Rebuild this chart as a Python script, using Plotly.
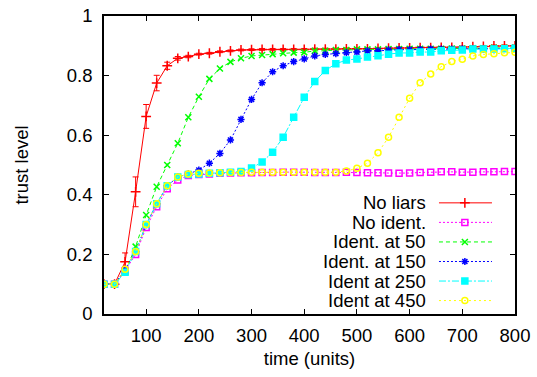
import plotly.graph_objects as go

# ---- data ----
time = [20, 40, 60, 80, 100, 120, 140, 160, 180, 200,
        220, 240, 260, 280, 300, 320, 340, 360, 380, 400,
        420, 440, 460, 480, 500, 520, 540, 560, 580, 600,
        620, 640, 660, 680, 700, 720, 740, 760, 780, 800]

no_liars = [0.1, 0.1, 0.175, 0.41, 0.663, 0.775, 0.833, 0.858, 0.864, 0.872,
            0.875, 0.88, 0.883, 0.886, 0.887, 0.888, 0.888, 0.888, 0.888, 0.888,
            0.889, 0.889, 0.889, 0.89, 0.89, 0.89, 0.891, 0.892, 0.893, 0.893,
            0.894, 0.894, 0.895, 0.895, 0.896, 0.897, 0.898, 0.9, 0.9, 0.9]
no_liars_err = [0.0, 0.0, 0.03, 0.05, 0.04, 0.026, 0.012, 0.006, 0.004, 0.003,
                0.003, 0.003, 0.003, 0.003, 0.003, 0.003, 0.003, 0.003, 0.003, 0.003,
                0.003, 0.003, 0.003, 0.003, 0.003, 0.003, 0.003, 0.003, 0.003, 0.003,
                0.003, 0.003, 0.003, 0.003, 0.003, 0.003, 0.003, 0.003, 0.003, 0.003]

no_ident = [0.1, 0.1, 0.145, 0.2, 0.29, 0.36, 0.42, 0.45, 0.465, 0.468,
            0.47, 0.472, 0.473, 0.474, 0.474, 0.475, 0.475, 0.476, 0.476, 0.476,
            0.475, 0.475, 0.475, 0.476, 0.475, 0.474, 0.474, 0.473, 0.472, 0.473,
            0.475, 0.476, 0.477, 0.477, 0.476, 0.476, 0.477, 0.477, 0.478, 0.478]

ident_50 = [0.1, 0.1, 0.14, 0.226, 0.332, 0.427, 0.5, 0.573, 0.66, 0.729,
            0.789, 0.824, 0.846, 0.858, 0.866, 0.869, 0.872, 0.875, 0.877, 0.878,
            0.883, 0.883, 0.886, 0.886, 0.888, 0.888, 0.888, 0.889, 0.889, 0.89,
            0.89, 0.89, 0.89, 0.891, 0.891, 0.892, 0.892, 0.893, 0.893, 0.893]

ident_150 = [0.1, 0.1, 0.15, 0.21, 0.3, 0.37, 0.43, 0.46, 0.47, 0.483,
             0.506, 0.539, 0.584, 0.653, 0.72, 0.776, 0.813, 0.833, 0.847, 0.856,
             0.866, 0.871, 0.874, 0.877, 0.879, 0.883, 0.883, 0.886, 0.887, 0.887,
             0.888, 0.889, 0.889, 0.889, 0.89, 0.89, 0.89, 0.891, 0.891, 0.891]

ident_250 = [0.1, 0.1, 0.14, 0.21, 0.3, 0.37, 0.43, 0.46, 0.468, 0.47,
             0.472, 0.474, 0.476, 0.478, 0.49, 0.51, 0.543, 0.593, 0.66, 0.727,
             0.78, 0.817, 0.84, 0.852, 0.856, 0.862, 0.867, 0.872, 0.876, 0.876,
             0.879, 0.879, 0.883, 0.885, 0.886, 0.889, 0.889, 0.889, 0.89, 0.892]

ident_450 = [0.1, 0.1, 0.15, 0.21, 0.3, 0.37, 0.43, 0.46, 0.47, 0.472,
             0.473, 0.474, 0.475, 0.475, 0.476, 0.476, 0.476, 0.476, 0.476, 0.476,
             0.476, 0.476, 0.476, 0.48, 0.489, 0.506, 0.541, 0.593, 0.66, 0.724,
             0.776, 0.805, 0.83, 0.847, 0.855, 0.866, 0.871, 0.873, 0.877, 0.878]

labels = ["No liars", "No ident.", "Ident. at 50", "Ident. at 150",
          "Ident at 250", "Ident at 450"]
x_ticks = [100, 200, 300, 400, 500, 600, 700, 800]
y_ticks = [0, 0.2, 0.4, 0.6, 0.8, 1]
y_tick_text = ["0", "0.2", "0.4", "0.6", "0.8", "1"]

# ---- styles ----
series = [no_liars, no_ident, ident_50, ident_150, ident_250, ident_450]
colors = ["#ff0000", "#ff00ff", "#00ff00", "#0000ff", "#00ffff", "#ffff00"]
dashes = ["solid", "2px,2px", "4px,3px", "2px,2px", "7px,2px,2px,2px", "2px,3px"]
symbols = ["cross-thin", "square-open", "x-thin", "asterisk", "square", "circle-open"]
sizes = [7, 6, 6, 6, 6, 6]

FONT = "Liberation Sans, Arial, sans-serif"
FS = 18.5

fig = go.Figure()

for i, (ys, name) in enumerate(zip(series, labels)):
    kw = {}
    if i == 0:
        kw["error_y"] = dict(type="data", array=no_liars_err, visible=True,
                             color=colors[0], thickness=1, width=3)
    fig.add_trace(go.Scatter(
        x=time, y=ys, name=name, mode="lines+markers",
        line=dict(color=colors[i], width=1, dash=dashes[i]),
        marker=dict(symbol=symbols[i], size=sizes[i], color=colors[i],
                    line=dict(color=colors[i], width=1.5)),
        showlegend=False, **kw))

# ---- gnuplot-style key (text then sample) on an overlay axis ----
key_top, key_step = 0.373, 0.0656
key_x0, key_xm, key_x1, key_text_x = 0.815, 0.878, 0.944, 0.786
for i, name in enumerate(labels):
    ky = key_top - i * key_step
    fig.add_trace(go.Scatter(
        x=[key_x0, key_x1], y=[ky, ky], mode="lines",
        line=dict(color=colors[i], width=1, dash=dashes[i]),
        xaxis="x2", yaxis="y2", showlegend=False, hoverinfo="skip"))
    fig.add_trace(go.Scatter(
        x=[key_xm], y=[ky], mode="markers",
        marker=dict(symbol=symbols[i], size=sizes[i], color=colors[i],
                    line=dict(color=colors[i], width=1.5)),
        xaxis="x2", yaxis="y2", showlegend=False, hoverinfo="skip"))
    fig.add_annotation(x=key_text_x, y=ky, xref="x2", yref="y2",
                       text=name, showarrow=False, xanchor="right",
                       yanchor="middle", borderpad=0,
                       font=dict(family=FONT, size=FS, color="black"))

axis_common = dict(showline=True, linecolor="black", linewidth=1.5, mirror="ticks",
                   ticks="inside", ticklen=5, tickwidth=1, tickcolor="black",
                   showgrid=False, zeroline=False, automargin=False,
                   tickfont=dict(family=FONT, size=FS, color="black"))

fig.update_layout(
    width=537, height=377,
    margin=dict(l=104, r=22, t=16, b=63, autoexpand=False),
    paper_bgcolor="white", plot_bgcolor="white",
    showlegend=False,
    font=dict(family=FONT, size=FS, color="black"),
    xaxis=dict(range=[20, 800], tickvals=x_ticks,
               title=dict(text="time (units)", standoff=7,
                          font=dict(family=FONT, size=FS, color="black")),
               ticklabelstandoff=4, **axis_common),
    yaxis=dict(range=[0, 1], tickvals=y_ticks, ticktext=y_tick_text,
               title=dict(text="trust level", standoff=33,
                          font=dict(family=FONT, size=FS, color="black")),
               ticklabelstandoff=6, **axis_common),
    xaxis2=dict(range=[0, 1], overlaying="x", visible=False, fixedrange=True),
    yaxis2=dict(range=[0, 1], overlaying="y", visible=False, fixedrange=True),
)

fig.write_html("out.html")
